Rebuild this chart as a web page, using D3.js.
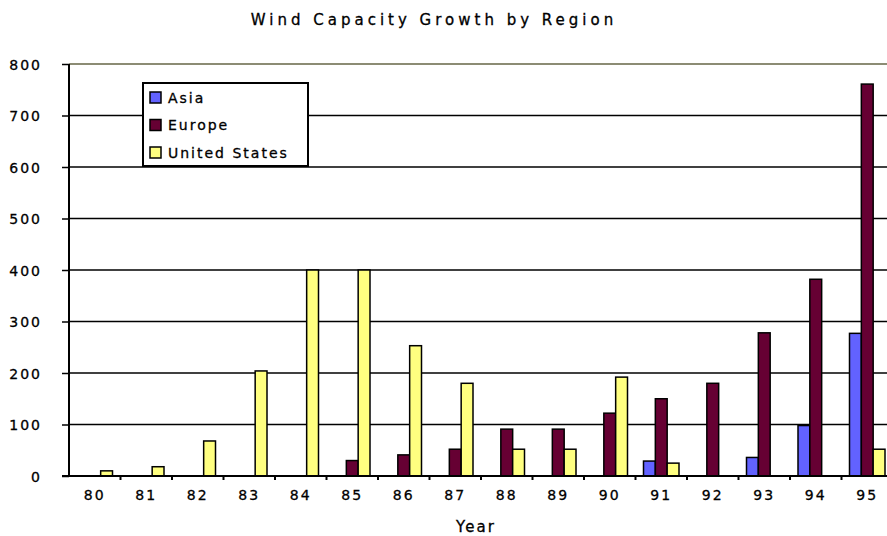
<!DOCTYPE html>
<html>
<head>
<meta charset="utf-8">
<script src="https://cdn.jsdelivr.net/npm/d3@7"></script>
<style>
  body { margin: 0; background: #fff; }
  text { font-family: "DejaVu Sans", sans-serif; fill: #000; stroke: #000; stroke-width: 0.3px; }
</style>
</head>
<body>
<script>
// wind capacity by region, 1980-1995
var years = ["80","81","82","83","84","85","86","87","88","89","90","91","92","93","94","95"];
var series = ["Asia", "Europe", "United States"];
var asia = [0, 0, 0, 0, 0, 0, 0, 0, 0, 0, 0, 29, 0, 36, 98, 277];
var europe = [0, 0, 0, 0, 0, 30, 41, 52, 91, 91, 122, 150, 180, 278, 382, 761];
var usa = [10, 18, 68, 204, 400, 400, 253, 180, 52, 52, 192, 25, 0, 0, 0, 52];
var yTicks = [0, 100, 200, 300, 400, 500, 600, 700, 800];
var colors = ["#6262ff", "#660033", "#ffff80"];

var width = 887, height = 536;
var plotLeft = 69, plotBottom = 476, plotTop = 64;

var svg = d3.select("body").append("svg")
  .attr("width", width)
  .attr("height", height);

var x0 = d3.scaleBand().domain(years).range([plotLeft, plotLeft + 16 * 51.5]);
var x1 = d3.scaleBand().domain(series).range([8, x0.bandwidth() - 8]);
var y = d3.scaleLinear().domain([0, 800]).range([plotBottom, plotTop]);

// gridlines
svg.append("g")
  .selectAll("line")
  .data(yTicks.filter(d => d > 0 && d < 800))
  .join("line")
  .attr("x1", plotLeft).attr("x2", width)
  .attr("y1", d => y(d)).attr("y2", d => y(d))
  .attr("stroke", "#000").attr("stroke-width", 1.5);

// top border
svg.append("line")
  .attr("x1", plotLeft).attr("x2", width)
  .attr("y1", y(800)).attr("y2", y(800))
  .attr("stroke", "#8c8c74").attr("stroke-width", 2);

// bars
var rows = years.map((yr, i) => ({ year: yr, vals: [asia[i], europe[i], usa[i]] }));
svg.append("g")
  .selectAll("g")
  .data(rows)
  .join("g")
  .attr("transform", d => "translate(" + x0(d.year) + ",0)")
  .selectAll("rect")
  .data(d => d.vals.map((v, j) => ({ key: series[j], v: v, c: colors[j] })).filter(d => d.v > 0))
  .join("rect")
  .attr("x", d => x1(d.key))
  .attr("width", x1.bandwidth())
  .attr("y", d => y(d.v))
  .attr("height", d => y(0) - y(d.v))
  .attr("fill", d => d.c)
  .attr("stroke", "#000")
  .attr("stroke-width", 1.5);

// y axis
var yAxis = d3.axisLeft(y).tickValues(yTicks).tickSize(7).tickPadding(20);
var gy = svg.append("g").attr("transform", "translate(" + plotLeft + ",0)").call(yAxis);
gy.select(".domain").attr("stroke-width", 2).attr("d", "M0," + plotTop + "V" + plotBottom);
gy.selectAll(".tick line").attr("stroke-width", 1.5);
gy.selectAll("text").attr("font-size", 14).attr("letter-spacing", 2)
  .style("font-family", "DejaVu Sans").attr("dy", "0.36em");

// x axis
var xAxis = d3.axisBottom(x0).tickSize(0).tickPadding(14);
var gx = svg.append("g").attr("transform", "translate(0," + plotBottom + ")").call(xAxis);
gx.select(".domain").attr("stroke-width", 2).attr("d", "M" + (plotLeft - 7) + ",0H" + width);
gx.selectAll("text").attr("font-size", 14).attr("letter-spacing", 2)
  .style("font-family", "DejaVu Sans");
// small ticks between categories
gx.selectAll(".sep")
  .data(years.slice(1))
  .join("line")
  .attr("x1", d => x0(d)).attr("x2", d => x0(d))
  .attr("y1", -1).attr("y2", 4)
  .attr("stroke", "#000").attr("stroke-width", 2);

// axis title
svg.append("text")
  .attr("x", 476).attr("y", 532)
  .attr("text-anchor", "middle")
  .attr("font-size", 15).attr("letter-spacing", 2)
  .text("Year");

// title
svg.append("text")
  .attr("x", 434).attr("y", 25)
  .attr("text-anchor", "middle")
  .attr("font-size", 15).attr("letter-spacing", 4)
  .text("Wind Capacity Growth by Region");

// legend
var lg = svg.append("g").attr("transform", "translate(143,83)");
lg.append("rect")
  .attr("width", 165).attr("height", 83)
  .attr("fill", "#fff").attr("stroke", "#000").attr("stroke-width", 2);
var item = lg.selectAll(".item")
  .data(series)
  .join("g")
  .attr("class", "item")
  .attr("transform", (d, i) => "translate(0," + (14.5 + i * 27.5) + ")");
item.append("rect")
  .attr("x", 7).attr("y", -5.5).attr("width", 11).attr("height", 11)
  .attr("fill", (d, i) => colors[i]).attr("stroke", "#000").attr("stroke-width", 1.5);
item.append("text")
  .attr("x", 25).attr("dy", "0.36em")
  .attr("font-size", 14).attr("letter-spacing", 2)
  .text(d => d);
</script>
</body>
</html>
